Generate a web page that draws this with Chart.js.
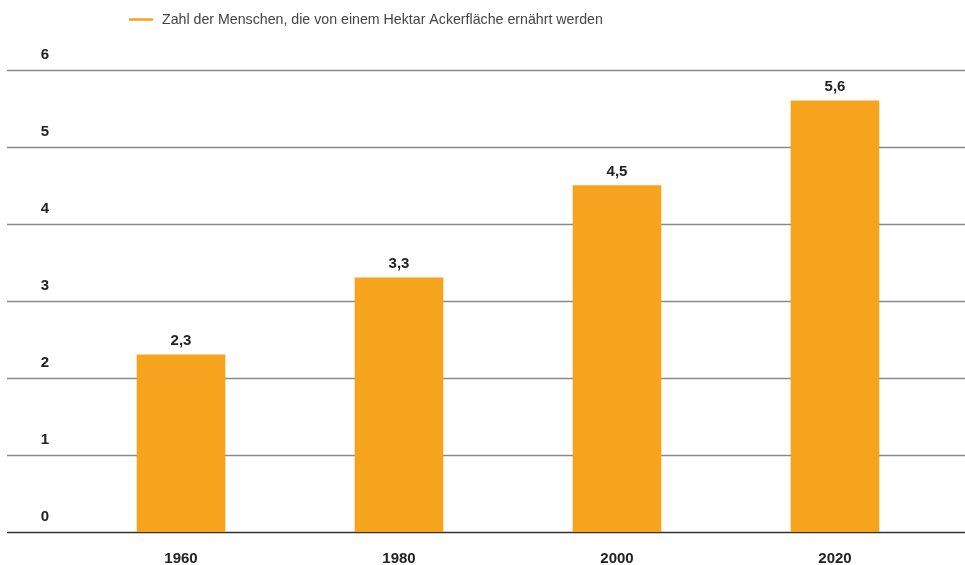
<!DOCTYPE html>
<html>
<head>
<meta charset="utf-8">
<script src="https://cdn.jsdelivr.net/npm/chart.js@4"></script>
<style>
  html, body { margin: 0; padding: 0; background: #fff; }
  #wrap { width: 965px; height: 565px; }
</style>
</head>
<body>
<div id="wrap"><canvas id="foodChart" width="965" height="565"></canvas></div>
<script>
  // Data
  const years = ['1960', '1980', '2000', '2020'];
  const peoplePerHectare = [2.3, 3.3, 4.5, 5.6];
  const yTicks = [0, 1, 2, 3, 4, 5, 6];
  const seriesLabel = 'Zahl der Menschen, die von einem Hektar Ackerfläche ernährt werden';

  const barColor = '#F6A41E';
  const textDark = '#222';
  const labelFont = 'bold 15px "Liberation Sans", Arial, sans-serif';

  // grid lines + y labels across the whole width, drawn under the bars
  const gridPlugin = {
    id: 'fullGrid',
    beforeDatasetsDraw(chart) {
      const ctx = chart.ctx;
      const y = chart.scales.y;
      ctx.save();
      yTicks.forEach(function(v) {
        const py = Math.round(y.getPixelForValue(v)) + 0.5;
        ctx.beginPath();
        ctx.moveTo(7, py);
        ctx.lineTo(965, py);
        ctx.lineWidth = 1.3;
        ctx.strokeStyle = v === 0 ? '#333' : '#8a8a8a';
        ctx.stroke();

        ctx.fillStyle = textDark;
        ctx.font = labelFont;
        ctx.textAlign = 'center';
        ctx.textBaseline = 'middle';
        ctx.fillText(String(v), 45, py - 16);
      });
      ctx.restore();
    },
    afterDatasetsDraw(chart) {
      const ctx = chart.ctx;
      const meta = chart.getDatasetMeta(0);
      ctx.save();
      ctx.fillStyle = textDark;
      ctx.font = labelFont;
      ctx.textAlign = 'center';
      ctx.textBaseline = 'middle';
      meta.data.forEach(function(bar, i) {
        const txt = peoplePerHectare[i].toFixed(1).replace('.', ',');
        ctx.fillText(txt, bar.x, bar.y - 14);
      });

      // legend
      ctx.strokeStyle = barColor;
      ctx.lineWidth = 2.5;
      ctx.beginPath();
      ctx.moveTo(129, 19.5);
      ctx.lineTo(153, 19.5);
      ctx.stroke();
      ctx.fillStyle = '#444';
      ctx.font = '14.2px "Liberation Sans", Arial, sans-serif';
      ctx.textAlign = 'left';
      ctx.fillText(chart.data.datasets[0].label, 162, 20);
      ctx.restore();
    }
  };

  const ctxFood = document.getElementById('foodChart').getContext('2d');
  const foodChart = new Chart(ctxFood, {
    type: 'bar',
    data: {
      labels: years,
      datasets: [{
        label: seriesLabel,
        data: peoplePerHectare,
        backgroundColor: barColor,
        barThickness: 88
      }]
    },
    options: {
      responsive: false,
      animation: false,
      layout: { padding: { top: 70, bottom: -21, left: 72, right: 21 } },
      plugins: { legend: { display: false }, tooltip: { enabled: false } },
      scales: {
        x: {
          grid: { display: false, drawTicks: false },
          border: { display: false },
          ticks: {
            padding: 18,
            color: textDark,
            font: { family: '"Liberation Sans", Arial, sans-serif', size: 15, weight: 'bold' }
          }
        },
        y: {
          display: false,
          min: 0,
          max: 6,
          ticks: { stepSize: 1 }
        }
      }
    },
    plugins: [gridPlugin]
  });
</script>
</body>
</html>
